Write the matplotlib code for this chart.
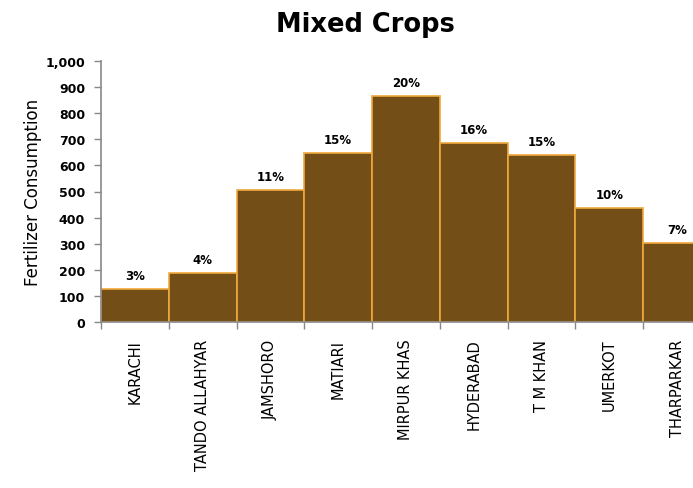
import numpy as np
import matplotlib
matplotlib.use("Agg")
import matplotlib.pyplot as plt
from matplotlib.ticker import FuncFormatter

plt.rcParams['font.family'] = ['DejaVu Sans']

districts = ['KARACHI', 'TANDO ALLAHYAR', 'JAMSHORO', 'MATIARI', 'MIRPUR KHAS',
             'HYDERABAD', 'T M KHAN', 'UMERKOT', 'THARPARKAR']
consumption = [126, 188, 506, 648, 866, 686, 640, 437, 303]
shares = ['3%', '4%', '11%', '15%', '20%', '16%', '15%', '10%', '7%']

fig = plt.figure(figsize=(6.93, 4.89), dpi=100)
# axes runs past the right edge, like the cropped original
ax = fig.add_axes([101/693, 166/489, 610/693, 261/489])

x = np.arange(len(districts))
ax.bar(x, consumption, width=1.0, align='edge', color='#734F17',
       edgecolor='#F0A83C', linewidth=1.2)

for xi, v, s in zip(x, consumption, shares):
    ax.annotate(s, (xi + 0.5, v), xytext=(0, 5), textcoords='offset points',
                ha='center', va='bottom', fontsize=8.5, fontweight='bold')

ax.set_xlim(0, len(districts))
ax.set_ylim(0, 1000)
ax.set_yticks(np.arange(0, 1001, 100))
ax.yaxis.set_major_formatter(FuncFormatter(lambda v, p: f'{int(v):,}'))
for lab in ax.get_yticklabels():
    lab.set_fontweight('bold')
ax.tick_params(axis='y', labelsize=9, length=5, pad=6.5, color='#888888', width=1)

ax.set_xticks(x + 0.5)
ax.set_xticklabels(districts, rotation=90, fontsize=10.5)
ax.set_xticks(np.arange(0, len(districts) + 1), minor=True)
ax.tick_params(axis='x', which='major', length=0, pad=12)
ax.tick_params(axis='x', which='minor', length=5, color='#888888', width=1)

for side in ['top', 'right']:
    ax.spines[side].set_visible(False)
for side in ['left', 'bottom']:
    ax.spines[side].set_color('#888888')
    ax.spines[side].set_linewidth(1.2)

ax.set_ylabel('Fertilizer Consumption', fontsize=12)
ax.yaxis.set_label_coords(-59/610, 0.5)
fig.text(365/693, 1 - 25/489, 'Mixed Crops', ha='center', va='center',
         fontsize=18.5, fontweight='bold')

fig.savefig('out.png', dpi=100)
